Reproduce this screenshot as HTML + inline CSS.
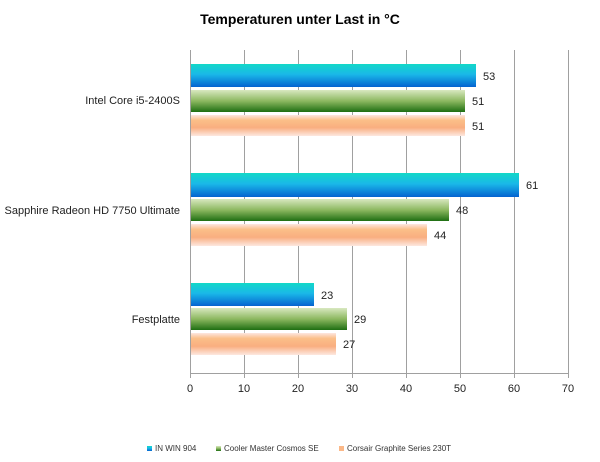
<!DOCTYPE html>
<html><head><meta charset="utf-8"><style>body{margin:0;background:#fff}svg{display:block;font-family:"Liberation Sans",sans-serif}</style></head><body>
<svg width="600" height="462" xmlns="http://www.w3.org/2000/svg">
<defs>
<linearGradient id="b" x1="0" y1="0" x2="0" y2="1"><stop offset="0" stop-color="#12d8c8"/><stop offset="0.45" stop-color="#1ab8e8"/><stop offset="1" stop-color="#0563d0"/></linearGradient>
<linearGradient id="g" x1="0" y1="0" x2="0" y2="1"><stop offset="0" stop-color="#d8e8c0"/><stop offset="0.5" stop-color="#8cb860"/><stop offset="1" stop-color="#1e6e12"/></linearGradient>
<linearGradient id="o" x1="0" y1="0" x2="0" y2="1"><stop offset="0" stop-color="#fde6e0"/><stop offset="0.25" stop-color="#fbbf88"/><stop offset="0.6" stop-color="#f9ae80"/><stop offset="1" stop-color="#fde8e0"/></linearGradient>
</defs>
<text x="300" y="24" text-anchor="middle" font-size="14" font-weight="bold">Temperaturen unter Last in °C</text>
<g stroke="#a0a0a0" stroke-width="1">
<line x1="190.5" y1="50" x2="190.5" y2="373"/>
<line x1="244.5" y1="50" x2="244.5" y2="378"/><line x1="298.5" y1="50" x2="298.5" y2="378"/><line x1="352.5" y1="50" x2="352.5" y2="378"/><line x1="406.5" y1="50" x2="406.5" y2="378"/><line x1="460.5" y1="50" x2="460.5" y2="378"/><line x1="514.5" y1="50" x2="514.5" y2="378"/><line x1="568.5" y1="50" x2="568.5" y2="378"/>
<line x1="190" y1="373.5" x2="569" y2="373.5"/>
<line x1="190.5" y1="373" x2="190.5" y2="378"/>
</g>
<rect x="191" y="64" width="285" height="23" fill="url(#b)"/>
<rect x="191" y="90" width="274" height="22" fill="url(#g)"/>
<rect x="191" y="115" width="274" height="21" fill="url(#o)"/>
<rect x="191" y="173" width="328" height="24" fill="url(#b)"/>
<rect x="191" y="199" width="258" height="22" fill="url(#g)"/>
<rect x="191" y="224" width="236" height="22" fill="url(#o)"/>
<rect x="191" y="283" width="123" height="23" fill="url(#b)"/>
<rect x="191" y="308" width="156" height="22" fill="url(#g)"/>
<rect x="191" y="333" width="145" height="22" fill="url(#o)"/>
<g font-size="11" fill="#222">
<text x="483" y="80">53</text><text x="472" y="105">51</text><text x="472" y="130">51</text>
<text x="526" y="189">61</text><text x="456" y="214">48</text><text x="434" y="239">44</text>
<text x="321" y="299">23</text><text x="354" y="323">29</text><text x="343" y="348">27</text>
<g text-anchor="end"><text x="180" y="104">Intel Core i5-2400S</text><text x="180" y="214">Sapphire Radeon HD 7750 Ultimate</text><text x="180" y="323">Festplatte</text></g>
<g text-anchor="middle"><text x="190" y="392">0</text><text x="244" y="392">10</text><text x="298" y="392">20</text><text x="352" y="392">30</text><text x="406" y="392">40</text><text x="460" y="392">50</text><text x="514" y="392">60</text><text x="568" y="392">70</text></g>
</g>
<g font-size="8" fill="#333">
<rect x="147" y="446" width="5" height="5" fill="url(#b)"/><text x="155" y="451">IN WIN 904</text>
<rect x="216" y="446" width="5" height="5" fill="url(#g)"/><text x="224" y="451">Cooler Master Cosmos SE</text>
<rect x="339" y="446" width="5" height="5" fill="#fbb888"/><text x="347" y="451">Corsair Graphite Series 230T</text>
</g>
</svg>
</body></html>
